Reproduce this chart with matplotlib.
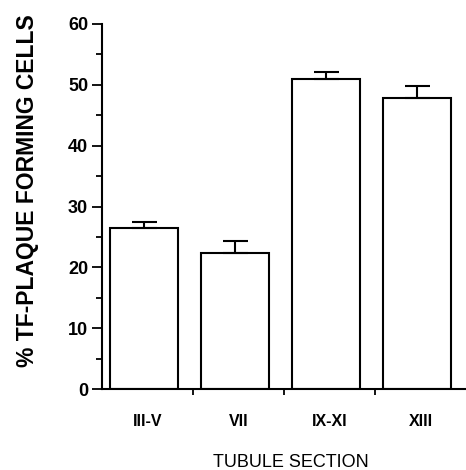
import matplotlib
matplotlib.use("Agg")
import matplotlib.pyplot as plt
import numpy as np

sections = ["III-V", "VII", "IX-XI", "XIII"]
pct_cells = [26.5, 22.3, 50.9, 47.8]
sem = [1.0, 2.0, 1.2, 2.0]

plt.rcParams["font.family"] = ["Liberation Sans", "DejaVu Sans"]

fig = plt.figure(figsize=(4.66, 4.70), dpi=100)
ax = fig.add_axes([0.219, 0.172, 0.781, 0.777])

x = np.arange(len(sections))
ax.bar(x - 0.04, pct_cells, width=0.74, color="white", edgecolor="black", linewidth=1.5, zorder=2)
ax.errorbar(x - 0.04, pct_cells, yerr=[np.zeros(len(sem)), sem], fmt="none",
            ecolor="black", elinewidth=1.5, capsize=9, capthick=1.5, zorder=3)

ax.set_xlim(-0.5, 3.5)
ax.set_ylim(0, 60)
ax.set_yticks(np.arange(0, 61, 10))
ax.set_yticks(np.arange(0, 61, 5), minor=True)
ax.set_xticks(x)
ax.set_xticklabels(sections, fontsize=11.5, fontweight="bold")
ax.set_xticks(np.arange(0.5, 3.5, 1), minor=True)
ax.tick_params(axis="x", which="major", length=0, pad=18)
ax.tick_params(axis="x", which="minor", length=4, width=1.3, direction="out")
ax.tick_params(axis="y", which="major", length=7, width=1.3, labelsize=13, pad=3)
ax.tick_params(axis="y", which="minor", length=4, width=1.3)
for lab in ax.get_yticklabels():
    lab.set_fontweight("bold")

for s in ("top", "right"):
    ax.spines[s].set_visible(False)
for s in ("left", "bottom"):
    ax.spines[s].set_linewidth(1.5)

ax.set_ylabel("% TF-PLAQUE FORMING CELLS", fontsize=16.5, fontweight="bold", labelpad=21)
ax.yaxis.label.set_y(0.545)
ax.set_xlabel("TUBULE SECTION", fontsize=13, labelpad=18)
ax.xaxis.label.set_x(0.52)

fig.savefig("out.png", dpi=100)
